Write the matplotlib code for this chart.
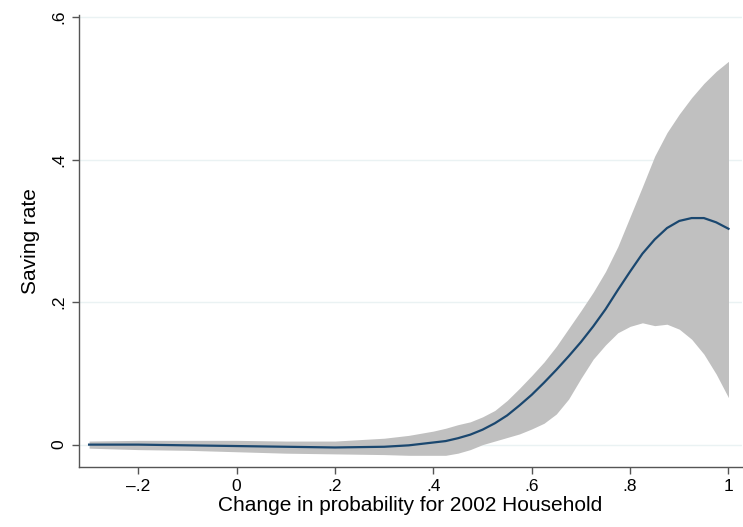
import matplotlib
matplotlib.use("Agg")
import matplotlib.pyplot as plt
import numpy as np

plt.rcParams['font.family'] = ['Liberation Sans', 'DejaVu Sans']

# Data
x_vals = [-0.3, -0.2, -0.1, 0.0, 0.1, 0.2, 0.3, 0.35,
          0.400, 0.425, 0.450, 0.475, 0.500, 0.525, 0.550, 0.575, 0.600, 0.625,
          0.650, 0.675, 0.700, 0.725, 0.750, 0.775, 0.800, 0.825, 0.850, 0.875,
          0.900, 0.925, 0.950, 0.975, 1.000]
fit_vals = [0.000, 0.000, -0.001, -0.002, -0.003, -0.004, -0.003, -0.001,
            0.003, 0.005, 0.009, 0.014, 0.021, 0.030, 0.041, 0.055, 0.070, 0.087,
            0.105, 0.124, 0.144, 0.166, 0.190, 0.217, 0.243, 0.268, 0.288, 0.304,
            0.314, 0.318, 0.318, 0.312, 0.303]
upper_vals = [0.005, 0.006, 0.006, 0.006, 0.005, 0.005, 0.009, 0.013,
              0.019, 0.023, 0.028, 0.032, 0.039, 0.048, 0.062, 0.079, 0.097, 0.116,
              0.138, 0.163, 0.188, 0.214, 0.243, 0.278, 0.320, 0.362, 0.405, 0.438,
              0.464, 0.487, 0.507, 0.524, 0.538]
lower_vals = [-0.005, -0.007, -0.008, -0.010, -0.012, -0.013, -0.014, -0.015,
              -0.015, -0.015, -0.012, -0.007, 0.000, 0.005, 0.010, 0.015, 0.022, 0.030,
              0.043, 0.064, 0.093, 0.120, 0.140, 0.157, 0.166, 0.171, 0.167, 0.169,
              0.162, 0.148, 0.127, 0.099, 0.066]

x_ticks = [-0.2, 0, 0.2, 0.4, 0.6, 0.8, 1.0]
x_ticklabels = ['\u2013.2', '0', '.2', '.4', '.6', '.8', '1']
y_ticks = [0, 0.2, 0.4, 0.6]
y_ticklabels = ['0', '.2', '.4', '.6']

fig = plt.figure(figsize=(7.43, 5.27), dpi=100)
ax = fig.add_axes([0.106, 0.1144, 0.893, 0.8571])

for yt in y_ticks:
    ax.axhline(yt, color='#eaf2f3', lw=1.0, zorder=0)

ax.fill_between(x_vals, lower_vals, upper_vals, color='#c0c0c0', lw=0, zorder=1)
ax.plot(x_vals, fit_vals, color='#1a476f', lw=1.6, zorder=2,
        solid_joinstyle='round')

ax.set_xlim(-0.321, 1.028)
ax.set_ylim(-0.031, 0.603)

ax.set_xticks(x_ticks)
ax.set_xticklabels(x_ticklabels, fontsize=12.5)
ax.set_yticks(y_ticks)
ax.set_yticklabels(y_ticklabels, fontsize=12.5, rotation=90, va='center')

for s in ['top', 'right']:
    ax.spines[s].set_visible(False)
for s in ['left', 'bottom']:
    ax.spines[s].set_color('#555555')
    ax.spines[s].set_linewidth(1.0)
ax.tick_params(axis='both', direction='out', length=5, width=1.0, color='#555555', pad=4)

ax.set_xlabel('Change in probability for 2002 Household', fontsize=15, labelpad=1)
ax.set_ylabel('Saving rate', fontsize=15, labelpad=8)

fig.savefig('out.png', dpi=100)
